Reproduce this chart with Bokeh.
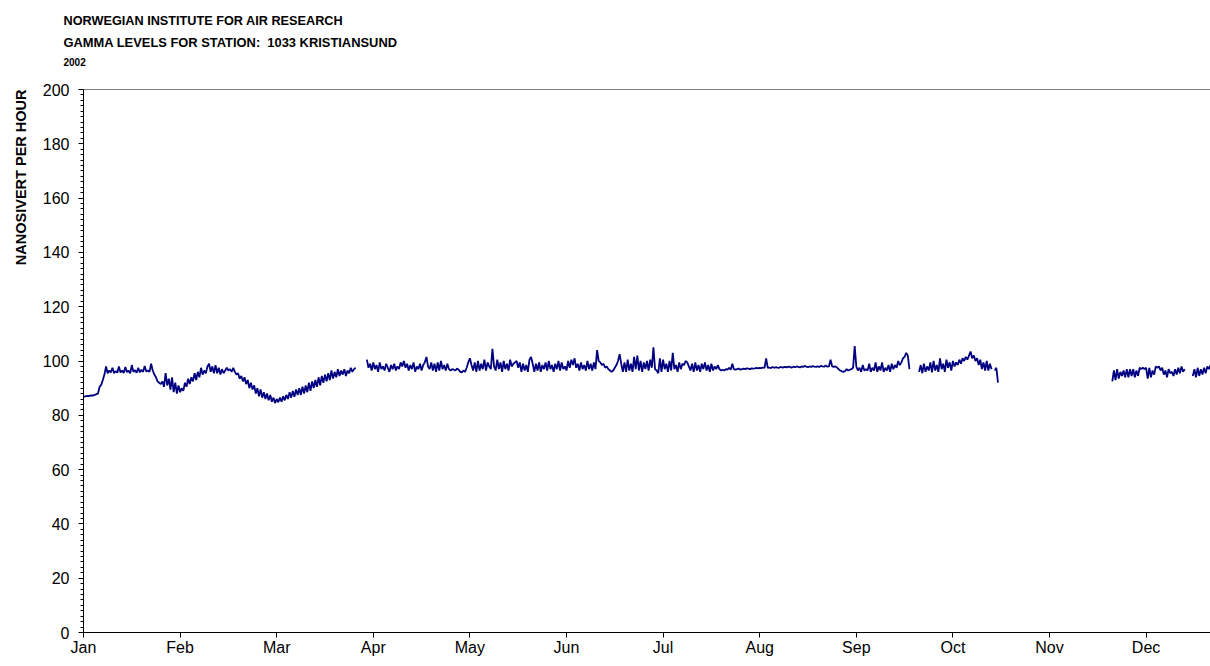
import math
from bokeh.plotting import figure
from bokeh.models import Title, Range1d, FixedTicker, Span
from bokeh.embed import file_html
from bokeh.resources import INLINE

# ---------------- data (nSv/h, 12-hour samples, x in days since 1 Jan) -------------
MONTHS = ["Jan", "Feb", "Mar", "Apr", "May", "Jun", "Jul", "Aug", "Sep", "Oct", "Nov", "Dec"]
MONTH_TICK_DAYS = [0, 30, 60, 90, 120, 150, 180, 210, 240, 270, 300, 330]
SAMPLE_STEP = 0.5

SEG1_START = 0.0
SEG1 = [86.8, 87.0, 87.1, 87.1, 87.2, 87.3, 87.3, 87.5, 87.8, 88.0,
        90.5, 91.2, 93.0, 95.0, 98.0,
        95.5, 96.5, 95.8, 97.5, 95.5, 96.3, 95.7, 98.0, 95.8, 96.5, 95.6, 97.8, 95.9, 96.4,
        95.5, 98.5, 96.0, 96.6, 95.7, 97.5, 95.8, 96.8, 96.0, 98.2, 96.1, 96.5, 96.0, 99.0,
        96.5, 95.0, 94.0, 92.5, 92.0, 91.5,
        92.5, 90.5, 95.5, 91.0, 93.5, 89.5, 94.0, 88.5, 92.0, 88.0, 91.0, 88.5, 90.0,
        89.0, 92.0, 90.5, 93.5, 91.5, 94.0, 92.5, 95.5, 93.0, 96.0, 94.0, 97.5, 95.0, 96.5, 95.5, 98.0,
        99.0, 96.0, 98.0, 95.5, 98.5, 95.5, 97.5, 95.0, 97.0, 95.5, 96.5,
        97.5, 96.5, 97.0, 96.0, 97.5, 96.0,
        95.0, 95.5, 93.5, 94.5, 92.5, 94.0, 91.5, 93.0, 90.0, 92.0, 89.5, 91.0,
        88.0, 90.0, 87.0, 89.5, 86.5, 88.5, 86.0, 88.0, 85.5, 87.5, 85.0, 86.5, 84.5, 86.0,
        84.8, 86.5, 85.0, 87.0, 85.5, 87.5, 86.0,
        88.5, 86.5, 89.0, 86.8, 89.5, 87.5, 90.0, 87.5, 90.5, 88.0,
        91.0, 88.5, 92.0, 89.0, 92.5, 90.0, 93.0, 90.5, 94.0, 91.0,
        94.5, 92.0, 95.0, 92.5, 95.5, 93.0, 96.5, 93.5, 96.0, 94.0,
        97.0, 94.5, 96.5, 95.0, 97.0, 94.5, 96.5, 95.5, 97.5, 96.0,
        97.0, 97.5]

SEG2_START = 88.0
SEG2 = [100.5, 97.5, 99.0, 96.5, 99.5, 97.0, 98.5, 96.0, 99.5, 97.0, 98.0, 96.5, 99.0, 97.5, 96.0, 98.5, 97.0, 99.0, 96.5, 98.0,
        97.0, 99.5, 98.0, 100.0, 97.5, 99.0, 96.5, 98.5, 97.0, 99.5, 96.0, 98.0, 97.0, 99.0, 96.5, 98.5, 99.5, 101.5, 98.0, 97.0,
        99.5, 96.5, 99.0, 96.0, 99.5, 96.5, 100.0, 97.0, 98.5, 96.5, 99.0, 97.0, 96.5, 97.0, 96.8, 96.5, 97.2, 96.8, 96.0, 95.8,
        96.5, 96.0, 97.5, 99.5, 101.0, 98.5, 96.5, 99.5, 96.0, 100.0, 96.5, 99.0, 97.0, 100.5, 96.5, 99.5, 98.0, 97.0, 104.5, 98.0,
        96.5, 100.5, 97.0, 99.5, 96.0, 100.0, 97.0, 99.0, 96.5, 100.5, 98.0, 99.0, 99.5, 100.0, 97.5, 99.5, 96.0, 99.0, 96.5, 98.5,
        96.0, 100.5, 101.5, 99.0, 96.0, 99.0, 96.5, 99.5, 96.0, 98.5, 97.0, 99.5, 96.5, 100.0, 97.0, 98.5, 96.0, 99.0, 97.0, 100.0,
        96.5, 99.5, 97.0, 98.0, 96.5, 100.0, 97.5, 100.5, 98.5, 101.0, 97.5, 99.0, 96.5, 99.5, 97.0, 98.5, 96.5, 100.0, 97.0, 99.0,
        96.5, 99.5, 97.0, 104.0, 100.0, 99.5, 98.5, 99.0, 97.5, 98.0, 97.0, 96.5, 96.0, 96.5, 97.5, 98.5, 100.0, 102.5, 99.0, 96.0,
        99.5, 96.0, 100.5, 96.5, 99.0, 96.0, 101.5, 97.0, 102.0, 96.5, 100.0, 96.0, 99.5, 97.0, 100.0, 96.5, 100.5, 97.5, 105.0, 97.0,
        96.5, 95.5, 101.0, 96.0, 100.5, 97.0, 99.0, 96.0, 100.0, 96.5, 103.0, 97.0, 98.5, 96.0, 99.5, 97.0, 99.0, 98.5, 100.0, 99.5,
        98.0, 96.5, 99.0, 96.0, 99.5, 96.5, 98.5, 96.0, 99.0, 97.0, 99.5, 96.5, 98.5, 96.0, 99.0, 96.5, 98.0, 97.0, 98.5, 97.0,
        96.5, 96.8, 96.5, 97.0, 96.8, 97.5, 96.8, 99.0, 97.0, 96.8, 97.0, 97.2, 96.8, 97.0, 97.2, 97.0, 97.3, 97.2, 97.0, 97.3,
        97.2, 97.3, 97.5, 97.3, 97.5, 97.4, 97.6, 97.5, 101.0, 97.5, 97.6, 97.4, 97.8, 97.5, 97.7, 97.6, 97.5, 97.8, 97.6, 97.7,
        97.8, 97.6, 98.0, 97.7, 97.6, 97.9, 97.7, 98.0, 97.8, 97.6, 98.0, 97.8, 98.2, 97.9, 97.7, 98.0, 97.8, 98.1, 97.9, 97.8,
        98.0, 97.8, 98.2, 98.0, 97.9, 98.3, 97.9, 98.0, 100.5, 98.0, 97.8, 98.0, 97.6, 97.0, 96.5, 96.2, 96.0, 96.3, 97.0, 96.5,
        96.8, 97.0, 97.5, 105.5, 98.0, 96.5, 97.5, 96.0, 98.5, 96.5, 97.0, 96.5, 99.0, 96.0, 97.5, 96.5, 99.5, 96.0, 98.0, 96.5,
        99.5, 96.0, 97.5, 96.5, 98.5, 96.0, 99.0, 97.0, 98.5, 97.5, 100.0, 98.5, 99.5, 101.0, 101.5, 103.0, 102.0, 97.0]

SEG3_START = 259.5
SEG3 = [96.0, 98.5, 95.5, 99.0, 96.0, 98.0, 96.5, 99.5, 95.8, 100.0,
        96.5, 98.5, 96.0, 101.0, 97.0, 99.0, 96.0, 100.5, 97.5, 99.5,
        96.5, 100.0, 98.0, 99.5, 98.5, 100.5, 99.0, 101.0, 100.0, 101.5,
        100.5, 102.0, 103.5, 101.0, 102.0, 100.0, 101.0, 98.5, 100.5, 97.0,
        99.5, 96.5, 100.0, 96.5, 99.0, 97.0]

SEG4_START = 283.0
SEG4 = [96.5, 97.5, 92.0]

SEG5_START = 319.5
SEG5 = [92.5, 96.5, 93.0, 97.0, 93.5, 96.0, 94.5, 96.5, 94.0, 97.0,
        94.0, 97.0, 94.5, 97.0, 94.0, 96.5, 94.5, 97.5, 97.0, 97.5,
        97.0, 97.5, 93.5, 97.5, 94.0, 96.5, 95.0, 98.0, 97.5, 98.0,
        96.5, 97.5, 95.0, 96.5, 94.0, 97.0, 95.5, 96.0, 94.5, 97.0,
        95.0, 97.5, 95.5, 98.0, 96.0, 97.0]

SEG6_START = 344.5
SEG6 = [94.5, 97.0, 94.0, 97.5, 94.5, 97.0, 95.0, 97.5, 95.5, 98.0, 97.0, 98.5, 99.0]

SEGMENTS = [(SEG1_START, SEG1), (SEG2_START, SEG2), (SEG3_START, SEG3),
            (SEG4_START, SEG4), (SEG5_START, SEG5), (SEG6_START, SEG6)]

xs, ys = [], []
for start, vals in SEGMENTS:
    xs += [start + SAMPLE_STEP * i for i in range(len(vals))] + [math.nan]
    ys += list(vals) + [math.nan]

FONT = "Liberation Sans"

p = figure(width=1210, height=666, x_range=Range1d(0, 350), y_range=Range1d(0, 200),
           output_backend="svg", toolbar_location=None, title_location=None,
           min_border_left=82, min_border_top=89, min_border_right=0, min_border_bottom=34)
p.outline_line_color = None
p.xgrid.grid_line_color = None
p.ygrid.grid_line_color = None
p.background_fill_color = "white"
p.border_fill_color = "white"

p.line(xs, ys, line_color="#000080", line_width=1.8)
p.add_layout(Span(location=200, dimension="width", line_color="black", line_width=1))

# axes
p.yaxis.ticker = FixedTicker(ticks=list(range(0, 201, 20)), minor_ticks=list(range(0, 201, 2)))
p.xaxis.ticker = FixedTicker(ticks=MONTH_TICK_DAYS, minor_ticks=[])
p.xaxis.major_label_overrides = {d: m for d, m in zip(MONTH_TICK_DAYS, MONTHS)}
for ax in (p.xaxis[0], p.yaxis[0]):
    ax.axis_line_color = "black"
    ax.major_tick_line_color = "black"
    ax.minor_tick_line_color = "black"
    ax.major_tick_in = 0
    ax.major_tick_out = 5
    ax.minor_tick_in = 0
    ax.minor_tick_out = 3
    ax.major_label_text_font = FONT
    ax.major_label_text_font_size = "16px"
    ax.major_label_text_color = "black"
p.xaxis.minor_tick_line_color = None
p.xaxis.major_label_standoff = 1
p.yaxis.major_label_standoff = 9

# titles (stacked from the frame upwards; the first is an invisible spacer)
spacer = Title(text="\u00a0", align="left", standoff=18, text_font=FONT, text_font_size="2px")
t_year = Title(text="2002", align="left", offset=-20, standoff=4, text_color="black",
               text_font=FONT, text_font_size="10px", text_font_style="bold")
t2 = Title(text="GAMMA LEVELS FOR STATION:\u00a0 1033 KRISTIANSUND", align="left", offset=-20, standoff=7,
           text_color="black", text_font=FONT, text_font_size="12.9px", text_font_style="bold")
t1 = Title(text="NORWEGIAN INSTITUTE FOR AIR RESEARCH", align="left", offset=-20, standoff=4,
           text_color="black", text_font=FONT, text_font_size="12.7px", text_font_style="bold")
p.add_layout(spacer, "above")
p.add_layout(t_year, "above")
p.add_layout(t2, "above")
p.add_layout(t1, "above")

ylab = Title(text="NANOSIVERT PER HOUR", align="right", standoff=21, text_color="black",
             text_font=FONT, text_font_size="14.5px", text_font_style="bold")
p.add_layout(ylab, "left")

open("out.html", "w").write(file_html(p, INLINE))
